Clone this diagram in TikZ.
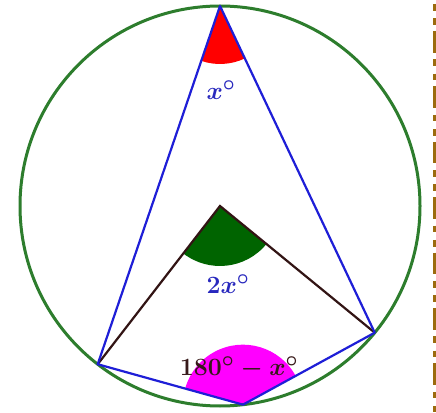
\documentclass[tikz,border=0pt]{standalone}
\usetikzlibrary{calc}
\definecolor{circgreen}{RGB}{45,125,45}
\definecolor{sectgreen}{RGB}{0,100,0}
\definecolor{sectred}{RGB}{255,0,0}
\definecolor{sectmag}{RGB}{255,0,255}
\definecolor{chordblue}{RGB}{30,30,215}
\definecolor{labblue}{RGB}{40,40,190}
\definecolor{spoke}{RGB}{50,20,20}
\definecolor{labdark}{RGB}{55,25,25}
\definecolor{borderbrown}{RGB}{156,107,14}
\tikzset{
  chord/.style={chordblue, line width=2.2pt, line join=round},
  spokeline/.style={spoke, line width=2.2pt},
  lab/.style={font=\fontsize{27.5}{32}\selectfont\boldmath, inner sep=0pt},
}
\begin{document}
\begin{tikzpicture}[x=1pt,y=1pt]
\useasboundingbox (0,0) rectangle (436,412);
\fill[white] (0,0) rectangle (436,412);
\coordinate (O) at (220,206);
\coordinate (T) at ($(O)+(90:200)$);
\coordinate (L) at ($(O)+(232.3:200)$);
\coordinate (R) at ($(O)+(320.7:200)$);
\coordinate (B) at ($(O)+(276.6:200)$);
% sectors
\fill[sectred] (T) -- ++(251.15:58) arc[start angle=251.15, end angle=295.35, radius=58] -- cycle;
\fill[sectgreen] (O) -- ++(232.3:60) arc[start angle=232.3, end angle=320.7, radius=60] -- cycle;
\fill[sectmag] (B) -- ++(28.7:60) arc[start angle=28.7, end angle=164.45, radius=60] -- cycle;
% circle
\draw[circgreen, line width=3pt] (O) circle[radius=200];
% spokes
\draw[spokeline] (L) -- (O) -- (R);
% chords
\draw[chord] (T) -- (L) -- (B) -- (R) -- cycle;
% labels
\node[lab, text=labblue] (lx) at (221,322) {$x^\circ$};
\node[lab, text=labblue] (l2x) at (228,128) {$2x^\circ$};
\node[lab, text=labdark] (l180) at (239,44) {$180^\circ-x^\circ$};
% right dashed border
\coordinate (d1) at (434,412);
\coordinate (d2) at (434,0);
\draw[borderbrown, line width=3pt, dash pattern=on 6.7pt off 7.6pt on 6.7pt off 6pt on 21.7pt off 6.7pt, dash phase=51.4pt] (d1) -- (d2);
\end{tikzpicture}
\end{document}
